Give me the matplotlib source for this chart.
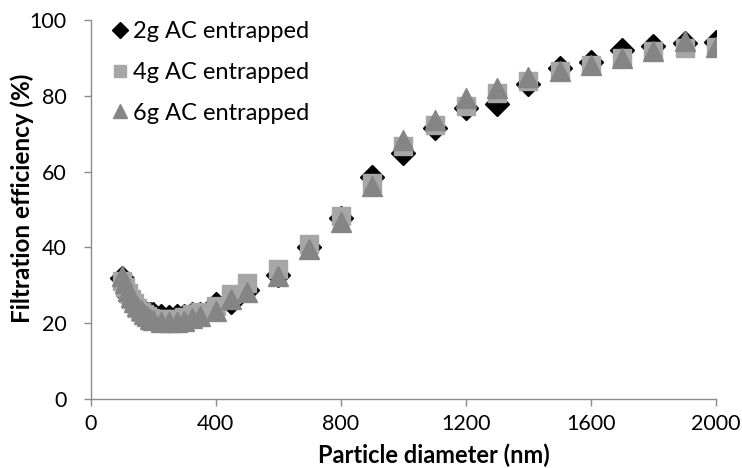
import matplotlib
matplotlib.use("Agg")
import matplotlib.pyplot as plt

# Particle diameters (nm)
diameter = [100, 110, 120, 130, 140, 150, 160, 170, 180, 190, 200, 225, 250, 275,
            300, 325, 350, 400, 450, 500, 600, 700, 800, 900, 1000, 1100, 1200,
            1300, 1400, 1500, 1600, 1700, 1800, 1900, 2000]

# Filtration efficiency (%) for each activated carbon loading
eff_2g = [31.8, 29.5, 27.5, 26.0, 25.0, 24.0, 23.3, 22.8, 22.5, 22.4, 22.3, 22.0, 21.6, 21.8,
          22.0, 22.3, 22.4, 25.0, 25.5, 28.7, 32.8, 40.0, 47.8, 58.5, 65.0, 71.5, 76.8,
          77.8, 83.0, 87.3, 89.0, 92.2, 93.1, 93.8, 94.3]
eff_4g = [31.2, 29.5, 28.0, 26.5, 25.2, 24.0, 23.0, 22.3, 22.0, 21.5, 21.2, 21.0, 21.0, 21.2,
          21.6, 22.3, 23.0, 24.5, 27.8, 30.5, 34.2, 41.0, 48.3, 57.0, 66.8, 72.3, 77.3,
          80.7, 84.0, 86.6, 88.0, 90.0, 91.7, 92.7, 92.8]
eff_6g = [32.5, 30.5, 28.5, 27.0, 25.5, 24.5, 23.5, 22.5, 21.8, 21.2, 20.8, 20.3, 20.2, 20.3,
          20.7, 21.3, 22.0, 23.2, 26.3, 28.2, 32.5, 39.7, 46.8, 56.2, 68.3, 73.5, 79.3,
          82.0, 85.0, 86.5, 88.0, 90.0, 91.7, 94.5, 92.8]

labels = ["2g AC entrapped", "4g AC entrapped", "6g AC entrapped"]
x_ticks = [0, 400, 800, 1200, 1600, 2000]
y_ticks = [0, 20, 40, 60, 80, 100]

plt.rcParams["font.family"] = ["Lato", "DejaVu Sans"]

fig = plt.figure(figsize=(7.42, 4.68), dpi=100)
ax = fig.add_axes([0.122, 0.1474, 0.843, 0.81])

ax.plot(diameter, eff_2g, linestyle="none", marker="D", markersize=12,
        color="black", label=labels[0], zorder=3)
ax.plot(diameter, eff_4g, linestyle="none", marker="s", markersize=12.5,
        color="#a6a6a6", label=labels[1], zorder=4)
ax.plot(diameter, eff_6g, linestyle="none", marker="^", markersize=14,
        color="#858585", label=labels[2], zorder=5)

ax.set_xlim(0, 2000)
ax.set_ylim(0, 100)
ax.set_xticks(x_ticks)
ax.set_yticks(y_ticks)

for side in ("top", "right"):
    ax.spines[side].set_visible(False)
for side in ("left", "bottom"):
    ax.spines[side].set_color("#8c8c8c")
    ax.spines[side].set_linewidth(1.0)
ax.tick_params(axis="both", direction="out", length=5, width=1.0,
               color="#8c8c8c", labelsize=15.5, labelcolor="black")
ax.tick_params(axis="y", pad=12)
ax.tick_params(axis="x", pad=6)

ax.set_xlabel("Particle diameter (nm)", fontsize=17, fontweight="bold")
ax.xaxis.set_label_coords(0.549, -0.118)
ax.set_ylabel("Filtration efficiency (%)", fontsize=17.5, fontweight="bold")
ax.yaxis.set_label_coords(-0.09, 0.53)

leg = ax.legend(loc="upper left", bbox_to_anchor=(0.02, 1.022), frameon=False,
                fontsize=17, markerscale=0.72, handlelength=0.6, handletextpad=0.25,
                labelspacing=0.84, borderaxespad=0)

fig.savefig("out.png", dpi=100)
